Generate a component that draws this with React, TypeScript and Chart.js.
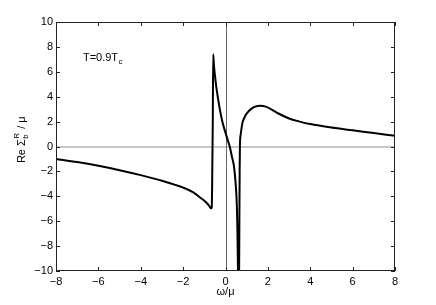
import React, { useEffect, useRef } from "react";
import { Chart, registerables } from "chart.js";

Chart.register(...registerables);

// ω/μ values
const omega = [
  -8, -7, -6, -5, -4, -3, -2, -1.5, -1.2, -1.0, -0.85, -0.75, -0.68, -0.65, -0.63, -0.6, -0.58,
  -0.55, -0.51, -0.42, -0.3, -0.15, 0, 0.1, 0.2, 0.3, 0.4, 0.48, 0.53, 0.56, 0.59, 0.61,
  0.635, 0.655, 0.668, 0.68, 0.72, 0.8, 0.9, 1.0, 1.2, 1.4, 1.65, 1.9, 2.2, 2.5, 3.0, 3.5, 4, 5, 6, 7, 8,
];
// Re Σ_b^R / μ values
const reSigma = [
  -1.0, -1.25, -1.55, -1.9, -2.3, -2.75, -3.3, -3.7, -4.1, -4.35, -4.6, -4.82, -4.97, -4.9, -3.0, 2.0, 7.4,
  6.6, 5.9, 4.6, 3.3, 2.0, 1.1, 0.55, 0, -0.8, -1.6, -3.0, -4.5, -6.5, -10, -12,
  -12, -6, -2, 0, 1.0, 1.9, 2.35, 2.65, 3.0, 3.2, 3.27, 3.2, 2.95, 2.65, 2.25, 2.0, 1.8, 1.52, 1.3, 1.08, 0.86,
];

const xTicks = [-8, -6, -4, -2, 0, 2, 4, 6, 8];
const yTicks = [-10, -8, -6, -4, -2, 0, 2, 4, 6, 8, 10];

const annotationMain = "T=0.9T";
const annotationSub = "c";
const annotationPos = { x: -6.73, y: 7.1 };
const xTitle = "ω/μ";

const FONT = "'Liberation Sans', Arial, Helvetica, sans-serif";

const fmt = (v: number) => (v < 0 ? "−" + Math.abs(v) : String(v));

const decorPlugin = {
  id: "decor",
  beforeDatasetsDraw(chart: any) {
    const { ctx, chartArea: a, scales } = chart;
    const x0 = Math.round(scales.x.getPixelForValue(0));
    const y0 = Math.round(scales.y.getPixelForValue(0));
    ctx.save();
    ctx.strokeStyle = "#b4b4b4";
    ctx.lineWidth = 1.5;
    ctx.beginPath();
    ctx.moveTo(a.left, y0);
    ctx.lineTo(a.right, y0);
    ctx.stroke();
    ctx.strokeStyle = "#666";
    ctx.lineWidth = 1;
    ctx.beginPath();
    ctx.moveTo(x0 + 0.5, a.top);
    ctx.lineTo(x0 + 0.5, a.bottom);
    ctx.stroke();
    ctx.restore();
  },
  afterDraw(chart: any) {
    const { ctx, chartArea: a, scales } = chart;
    ctx.save();
    // box
    ctx.strokeStyle = "#222";
    ctx.lineWidth = 1;
    ctx.strokeRect(a.left + 0.5, a.top + 0.5, a.right - a.left - 1, a.bottom - a.top - 1);
    // inside ticks
    const tl = 4;
    ctx.beginPath();
    for (const v of xTicks) {
      const px = Math.round(scales.x.getPixelForValue(v)) + 0.5;
      ctx.moveTo(px, a.bottom);
      ctx.lineTo(px, a.bottom - tl);
      ctx.moveTo(px, a.top);
      ctx.lineTo(px, a.top + tl);
    }
    for (const v of yTicks) {
      const py = Math.round(scales.y.getPixelForValue(v)) + 0.5;
      ctx.moveTo(a.left, py);
      ctx.lineTo(a.left + tl, py);
      ctx.moveTo(a.right, py);
      ctx.lineTo(a.right - tl, py);
    }
    ctx.stroke();

    // annotation
    ctx.fillStyle = "#000";
    ctx.font = `11px ${FONT}`;
    ctx.textBaseline = "middle";
    ctx.textAlign = "left";
    const ax = scales.x.getPixelForValue(annotationPos.x);
    const ay = scales.y.getPixelForValue(annotationPos.y);
    ctx.fillText(annotationMain, ax, ay);
    const w = ctx.measureText(annotationMain).width;
    ctx.font = `8px ${FONT}`;
    ctx.fillText(annotationSub, ax + w + 0.5, ay + 4);

    // x title
    ctx.font = `11px ${FONT}`;
    ctx.textAlign = "center";
    ctx.fillText(xTitle, (a.left + a.right) / 2, 292);

    // y title: Re Σ_b^R / μ
    ctx.translate(22, 140);
    ctx.rotate(-Math.PI / 2);
    ctx.textAlign = "left";
    const p1 = "Re Σ";
    const p3 = " / μ";
    ctx.font = `11px ${FONT}`;
    const w1 = ctx.measureText(p1).width;
    const w3 = ctx.measureText(p3).width;
    ctx.font = `8px ${FONT}`;
    const w2 = Math.max(ctx.measureText("b").width, ctx.measureText("R").width) + 1;
    const total = w1 + w2 + w3;
    let cx = -total / 2;
    ctx.font = `11px ${FONT}`;
    ctx.fillText(p1, cx, 0);
    cx += w1 + 0.5;
    ctx.font = `8px ${FONT}`;
    ctx.fillText("b", cx, 4);
    ctx.fillText("R", cx, -5);
    cx += w2;
    ctx.font = `11px ${FONT}`;
    ctx.fillText(p3, cx, 0);
    ctx.restore();
  },
};

export default function App() {
  const ref = useRef<HTMLCanvasElement>(null);
  useEffect(() => {
    document.body.style.margin = "0";
    const chart = new Chart(ref.current as HTMLCanvasElement, {
      type: "line",
      data: {
        datasets: [
          {
            data: omega.map((x, i) => ({ x, y: reSigma[i] })),
            borderColor: "#000",
            borderWidth: 2,
            pointRadius: 0,
            cubicInterpolationMode: "monotone",
            fill: false,
            clip: 0,
          } as any,
        ],
      },
      options: {
        responsive: false,
        animation: false,
        layout: { padding: { left: 0, right: 41, top: 22, bottom: 0 } },
        plugins: { legend: { display: false }, tooltip: { enabled: false } },
        scales: {
          x: {
            type: "linear",
            min: -8,
            max: 8,
            afterBuildTicks: (s: any) => {
              s.ticks = xTicks.map((v) => ({ value: v }));
            },
            afterFit: (s: any) => {
              s.height = 34;
            },
            grid: { display: false, drawTicks: false },
            border: { display: false },
            ticks: {
              padding: 4,
              color: "#000",
              font: { family: FONT, size: 11 },
              maxRotation: 0,
              autoSkip: false,
              callback: (v: any) => fmt(Number(v)),
            },
          },
          y: {
            type: "linear",
            min: -10,
            max: 10,
            afterBuildTicks: (s: any) => {
              s.ticks = yTicks.map((v) => ({ value: v }));
            },
            afterFit: (s: any) => {
              s.width = 56;
            },
            grid: { display: false, drawTicks: false },
            border: { display: false },
            ticks: {
              padding: 3,
              color: "#000",
              font: { family: FONT, size: 11 },
              autoSkip: false,
              callback: (v: any) => fmt(Number(v)),
            },
          },
        },
      },
      plugins: [decorPlugin],
    });
    return () => chart.destroy();
  }, []);
  return <canvas ref={ref} width={436} height={305} style={{ display: "block" }} />;
}
